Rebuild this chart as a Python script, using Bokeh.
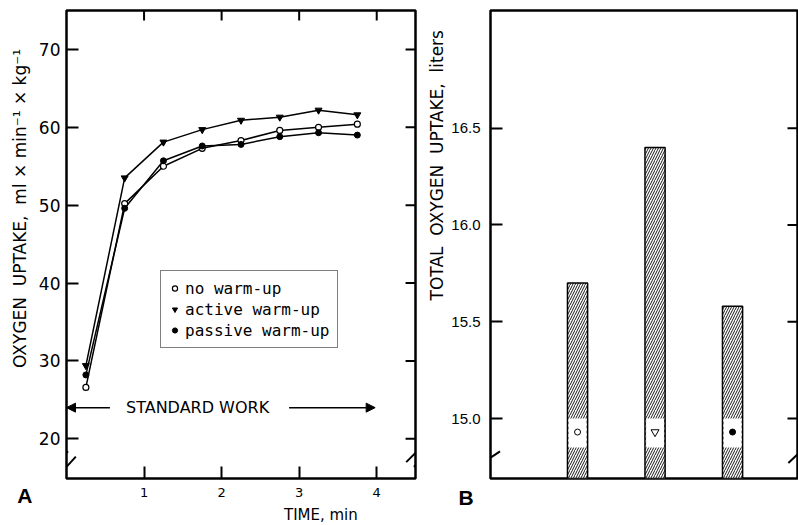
from bokeh.plotting import figure
from bokeh.models import (Range1d, FixedTicker, Label, Arrow, NormalHead,
                          Legend, LegendItem, ColumnDataSource, PrintfTickFormatter)
from bokeh.layouts import row
from bokeh.embed import file_html
from bokeh.resources import INLINE

# ---------------- data ----------------
times = [0.25, 0.75, 1.25, 1.75, 2.25, 2.75, 3.25, 3.75]
no_warmup = [26.6, 50.2, 55.0, 57.3, 58.3, 59.6, 60.0, 60.4]
active_warmup = [29.4, 53.5, 58.1, 59.7, 60.9, 61.3, 62.2, 61.6]
passive_warmup = [28.2, 49.6, 55.7, 57.6, 57.8, 58.8, 59.3, 59.0]
series_names = ["no warm-up", "active warm-up", "passive warm-up"]

a_xticks = [1, 2, 3, 4]
a_yticks = [20, 30, 40, 50, 60, 70]

bar_pos = [1, 2, 3]
total_uptake = [15.70, 16.40, 15.58]
b_yticks = [15.0, 15.5, 16.0, 16.5]

FONT = "DejaVu Sans"
MONO = "DejaVu Sans Mono"
NB = "\u00a0"

# ---------------- layout constants ----------------
A_W, A_H = 425, 525
A_L, A_R, A_T, A_B = 64, 10, 8, 47
A_X = (0, 4.5)
A_Y = (14.9, 75)
B_W, B_H = 373, 525
B_L, B_R, B_T, B_B = 65, 1, 10, 46
B_X = (-0.123, 3.838)
B_Y = (14.69, 17.108)

def style_axis(ax, ticks, font_size, font, standoff, tick_in=12):
    ax.ticker = FixedTicker(ticks=ticks)
    ax.axis_line_color = None
    ax.major_tick_in = tick_in
    ax.major_tick_out = 0
    ax.major_tick_line_width = 2
    ax.minor_tick_line_color = None
    ax.major_label_standoff = standoff
    ax.major_label_text_font = font
    ax.major_label_text_font_size = font_size
    ax.major_label_text_color = "black"

# ---------------- panel A ----------------
pA = figure(width=A_W, height=A_H, output_backend="svg", toolbar_location=None,
            x_range=Range1d(*A_X), y_range=Range1d(*A_Y),
            min_border_left=A_L, min_border_right=A_R, min_border_top=A_T, min_border_bottom=A_B)
pA.grid.visible = False
pA.outline_line_color = "black"
pA.outline_line_width = 2.5
style_axis(pA.yaxis[0], a_yticks, "17px", FONT, 6)
style_axis(pA.xaxis[0], a_xticks, "13px", FONT, 9)

# mirrored inward ticks on the right and top frame edges
ax_px = (A_W - A_L - A_R) / (A_X[1] - A_X[0])
ay_px = (A_H - A_T - A_B) / (A_Y[1] - A_Y[0])
pA.segment(x0=[A_X[1] - 10 / ax_px] * len(a_yticks), y0=a_yticks,
           x1=[A_X[1]] * len(a_yticks), y1=a_yticks, line_color="black", line_width=2)
pA.segment(x0=a_xticks, y0=[A_Y[1] - 10 / ay_px] * len(a_xticks),
           x1=a_xticks, y1=[A_Y[1]] * len(a_xticks), line_color="black", line_width=2)

src = ColumnDataSource(dict(t=times, no=no_warmup, act=active_warmup, pas=passive_warmup))
for col in ["no", "act", "pas"]:
    pA.line("t", col, source=src, line_color="black", line_width=1.5)
s_no = pA.scatter("t", "no", source=src, marker="circle", size=6,
                  fill_color="white", line_color="black", line_width=1.2)
s_act = pA.scatter("t", "act", source=src, marker="inverted_triangle", size=7,
                   fill_color="black", line_color="black")
s_pas = pA.scatter("t", "pas", source=src, marker="circle", size=6,
                   fill_color="black", line_color="black")

legend = Legend(items=[LegendItem(label=series_names[0], renderers=[s_no]),
                       LegendItem(label=series_names[1], renderers=[s_act]),
                       LegendItem(label=series_names[2], renderers=[s_pas])],
                location=(94, 130), orientation="vertical",
                border_line_color="black", border_line_width=1.5, background_fill_color="white",
                background_fill_alpha=1, label_text_font=MONO, label_text_font_size="16px",
                label_text_color="black", glyph_width=13, glyph_height=20, label_height=20,
                label_standoff=4, padding=7, spacing=1, margin=0)
pA.add_layout(legend, "center")

SW_Y = 24.0
pA.add_layout(Arrow(end=NormalHead(size=9, fill_color="black", line_color="black"),
                    x_start=0.56, y_start=SW_Y, x_end=0.0, y_end=SW_Y,
                    line_color="black", line_width=1.5))
pA.add_layout(Arrow(end=NormalHead(size=9, fill_color="black", line_color="black"),
                    x_start=2.87, y_start=SW_Y, x_end=3.98, y_end=SW_Y,
                    line_color="black", line_width=1.5))
pA.add_layout(Label(x=1.69, y=SW_Y, text="STANDARD WORK", text_align="center",
                    text_baseline="middle", text_font=FONT, text_font_size="16px",
                    text_color="black"))

# texts outside the frame live in side panels (not clipped)
ylabel_a = "OXYGEN" + NB * 2 + "UPTAKE," + NB * 2 + "ml × min⁻¹ × kg⁻¹"
pA.add_layout(Label(x=-0.6, y=29.1, text=ylabel_a, angle=1.5707963,
                    text_align="left", text_baseline="middle", text_font=FONT,
                    text_font_size="17px", text_color="black"), "left")
pA.add_layout(Label(x=-0.635, y=12.7, text="A", text_align="left", text_baseline="alphabetic",
                    text_font="Liberation Sans", text_font_style="bold", text_font_size="21px",
                    text_color="black"), "left")
pA.add_layout(Label(x=3.28, y=10.15, text="TIME, min", text_align="center",
                    text_baseline="middle", text_font=FONT, text_font_size="15px",
                    text_color="black"), "below")

for (x0, y0, x1, y1) in [(-0.12, 17.0, 0.02, 18.4), (0.0, 16.4, 0.12, 17.7),
                         (4.38, 17.0, 4.52, 18.4), (4.48, 16.4, 4.6, 17.7)]:
    pA.add_layout(Arrow(end=None, start=None, x_start=x0, y_start=y0, x_end=x1, y_end=y1,
                        line_color="black", line_width=2))

# ---------------- panel B ----------------
pB = figure(width=B_W, height=B_H, output_backend="svg", toolbar_location=None,
            x_range=Range1d(*B_X), y_range=Range1d(*B_Y), x_axis_location=None,
            min_border_left=B_L, min_border_right=B_R, min_border_top=B_T, min_border_bottom=B_B)
pB.grid.visible = False
pB.outline_line_color = "black"
pB.outline_line_width = 2.5
style_axis(pB.yaxis[0], b_yticks, "15px", "Liberation Sans", 10)
pB.yaxis[0].formatter = PrintfTickFormatter(format="%.1f")
bx_px = (B_W - B_L - B_R) / (B_X[1] - B_X[0])
pB.segment(x0=[B_X[1] - 10 / bx_px] * len(b_yticks), y0=b_yticks,
           x1=[B_X[1]] * len(b_yticks), y1=b_yticks, line_color="black", line_width=2)

bsrc = ColumnDataSource(dict(x=bar_pos, top=total_uptake))
BAR_W = 0.26
pB.vbar(x="x", top="top", bottom=B_Y[0] - 0.2, width=BAR_W, source=bsrc, fill_color="white",
        line_color="black", line_width=1.5, hatch_pattern="/", hatch_color="black",
        hatch_scale=5, hatch_weight=0.9)
GAP_LO, GAP_HI = 14.85, 15.0
pB.vbar(x="x", top=GAP_HI, bottom=GAP_LO, width=BAR_W - 0.03, source=bsrc,
        fill_color="white", line_color=None)
MARK_Y = 14.93
pB.scatter([bar_pos[0]], [MARK_Y], marker="circle", size=6, fill_color="white", line_color="black")
pB.scatter([bar_pos[1]], [MARK_Y], marker="inverted_triangle", size=8, fill_color="white",
           line_color="black")
pB.scatter([bar_pos[2]], [MARK_Y], marker="circle", size=6, fill_color="black", line_color="black")

ylabel_b = "TOTAL" + NB * 2 + "OXYGEN" + NB * 2 + "UPTAKE," + NB * 2 + "liters"
pB.add_layout(Label(x=-0.807, y=15.61, text=ylabel_b, angle=1.5707963,
                    text_align="left", text_baseline="middle", text_font=FONT,
                    text_font_size="17px", text_color="black"), "left")
pB.add_layout(Label(x=-0.536, y=14.59, text="B", text_align="left", text_baseline="alphabetic",
                    text_font="Liberation Sans", text_font_style="bold", text_font_size="21px",
                    text_color="black"), "below")
for (x0, y0, x1, y1) in [(-0.23, 14.77, 0.0, 14.83), (3.72, 14.77, 3.88, 14.83)]:
    pB.add_layout(Arrow(end=None, start=None, x_start=x0, y_start=y0, x_end=x1, y_end=y1,
                        line_color="black", line_width=2))

layout = row(pA, pB, spacing=0)
open("out.html", "w").write(file_html(layout, INLINE))
